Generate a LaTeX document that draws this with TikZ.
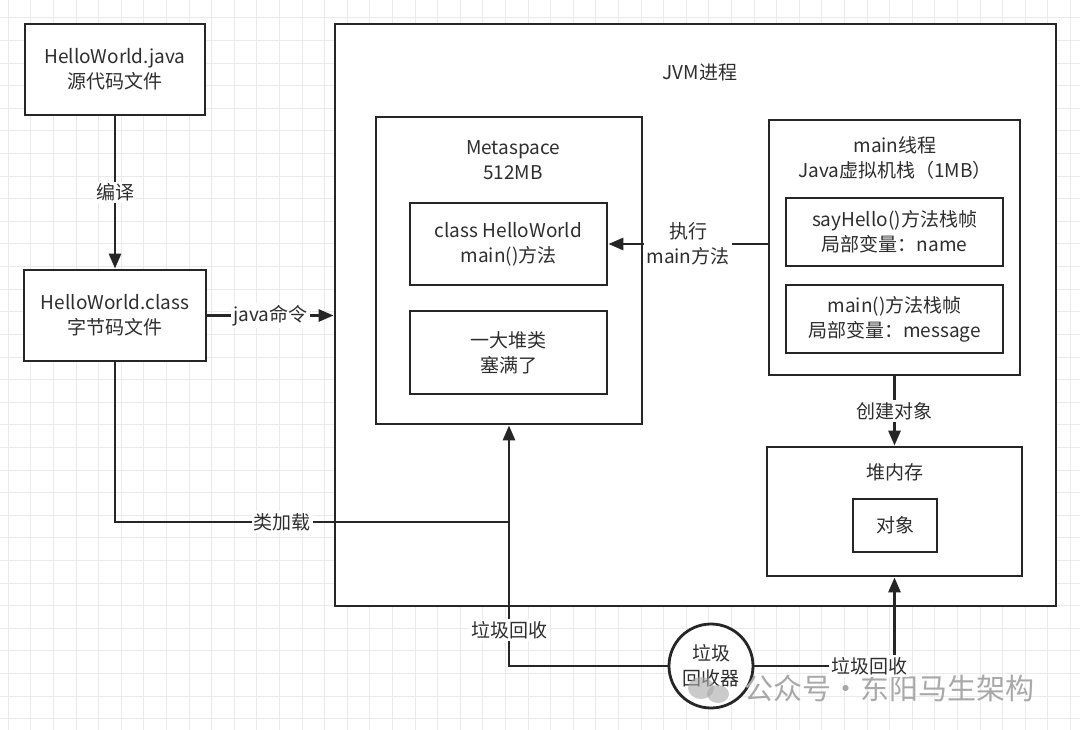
\documentclass[tikz,border=0pt]{standalone}
\usepackage{fontspec}
\setmainfont{Noto Sans CJK SC}
\usetikzlibrary{arrows.meta}
\definecolor{linec}{HTML}{262626}
\definecolor{textc}{HTML}{2E2E2E}
\definecolor{gridc}{HTML}{EAEAEA}
\definecolor{wmc}{HTML}{A8A8A8}
\tikzset{
  txt/.style={align=center, text=textc, font=\fontsize{19}{25}\selectfont, inner sep=0pt},
  box/.style={draw=linec, line width=2.8pt, fill=white, align=center, text=textc,
              font=\fontsize{19}{25}\selectfont, inner sep=0pt},
  arr/.style={draw=linec, line width=2.8pt, -{Triangle[length=15pt,width=12pt]}},
  conn/.style={draw=linec, line width=2.8pt},
  lbl/.style={fill=white, text=textc, font=\fontsize{19}{25}\selectfont, align=center, inner sep=2pt},
  gridline/.style={draw=gridc, line width=1pt}
}
\begin{document}
\begin{tikzpicture}[x=1pt,y=-1pt]
\useasboundingbox (0,0) rectangle (1080,730);
\fill[white] (0,0) rectangle (1080,730);
% grid
\foreach \i in {0,...,47} \draw[gridline] ({8.3+22.6*\i},0) -- ({8.3+22.6*\i},730);
\foreach \j in {0,...,32} \draw[gridline] (0,{18+22.6*\j}) -- (1080,{18+22.6*\j});

% left boxes
\node[box, minimum width=180pt, minimum height=91pt] (src) at (115,69.5) {HelloWorld.java\\源代码文件};
\node[box, minimum width=182pt, minimum height=91pt] (cls) at (115,315.5) {HelloWorld.class\\字节码文件};

% JVM
\node[box, minimum width=721pt, minimum height=582pt] (jvm) at (695.5,315) {};
\node[txt] (jvmlbl) at (700,72) {JVM进程};

% Metaspace
\node[box, minimum width=266pt, minimum height=307pt] (meta) at (509,270.5) {};
\node[txt] (metalbl) at (513,160) {Metaspace\\512MB};
\node[box, minimum width=197pt, minimum height=82pt] (chw) at (508.5,244) {class HelloWorld\\main()方法};
\node[box, minimum width=197pt, minimum height=83pt] (heapcls) at (508.5,352.5) {一大堆类\\塞满了};

% main thread
\node[box, minimum width=251pt, minimum height=255pt] (thread) at (894.5,247.5) {};
\node[txt] (threadlbl) at (895,158) {main线程\\Java虚拟机栈（1MB）};
\node[box, minimum width=217pt, minimum height=68pt] (sayhello) at (894.5,232) {sayHello()方法栈帧\\局部变量：name};
\node[box, minimum width=217pt, minimum height=68pt] (mainframe) at (894.5,319) {main()方法栈帧\\局部变量：message};

% heap
\node[box, minimum width=255pt, minimum height=129pt] (heap) at (894.5,511.5) {};
\node[txt] (heaplbl) at (895,472) {堆内存};
\node[box, minimum width=84pt, minimum height=53pt] (obj) at (895,525.5) {对象};

% garbage collector
\node[box, circle, minimum size=84pt] (gc) at (711,666) {垃圾\\回收器};

% watermark
\fill[wmc, opacity=0.6] (701,688) ellipse (13pt and 11pt);
\fill[wmc, opacity=0.6] (718,694) ellipse (11pt and 9pt);
\node[text=wmc, font=\fontsize{29}{32}\selectfont, inner sep=0pt, anchor=west] (wm) at (744,688) {公众号・东阳马生架构};

% connectors
\draw[arr] (src) -- node[lbl] {编译} (cls);
\draw[arr] (cls.east) -- node[lbl] {java命令} (cls.east -| jvm.west);
\draw[arr] (thread.west |- chw.east) -- node[lbl] {执行\\main方法} (chw.east);
\draw[arr] (thread.south) -- node[lbl] {创建对象} (heap.north);
\coordinate (ljoin) at (509,522);
\draw[conn] (cls.south) |- node[lbl, pos=0.712] {类加载} (ljoin);
\draw[arr] (gc.west) -| node[lbl, pos=0.575] {垃圾回收} (meta.south);
\draw[arr] (gc.east) -| node[lbl, pos=0.41] {垃圾回收} (heap.south);
\end{tikzpicture}
\end{document}
